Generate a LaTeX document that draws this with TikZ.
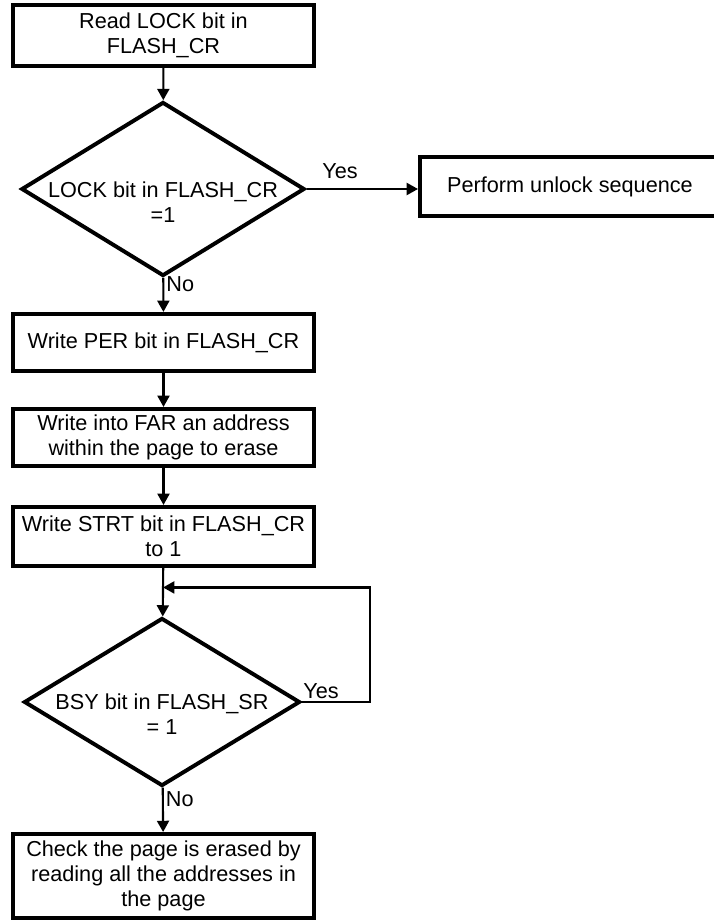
\documentclass[tikz,border=0pt]{standalone}
\usepackage{fontspec}
\setmainfont{Liberation Sans}
\usetikzlibrary{shapes.geometric,arrows.meta}

\begin{document}
\begin{tikzpicture}[x=0.025cm, y=-0.025cm,
    font=\fontsize{15.4}{17.8}\selectfont,
    flowbox/.style={draw, rectangle, line width=2.8pt, align=center,
      minimum width=7.5cm, inner sep=2pt},
    decision/.style={draw, diamond, line width=2.8pt, inner sep=0pt},
    flowline/.style={line width=1.5pt, -{Triangle[length=8pt, width=8.5pt]}},
    answer/.style={inner sep=1.5pt}]
  \useasboundingbox (0,0) rectangle (714,922);
  \node[flowbox, minimum height=1.52cm] (readlock) at (163.5,35.5)
    {Read LOCK bit in\\FLASH\_CR};
  \node[decision, minimum width=7.08cm, minimum height=4.35cm] (lockcheck) at (163,189) {};
  \node[align=center] (locktext) at ([yshift=-0.32cm]lockcheck.center)
    {LOCK bit in FLASH\_CR\\=1};
  \node[flowbox, minimum height=1.48cm] (unlock) at (570,186.5)
    {Perform unlock sequence};
  \node[flowbox, minimum height=1.43cm] (writeper) at (163.5,342.5)
    {Write PER bit in FLASH\_CR};
  \node[flowbox, minimum height=1.43cm] (writefar) at (163.5,437.5)
    {Write into FAR an address\\within the page to erase};
  \node[flowbox, minimum height=1.48cm] (writestrt) at (163.5,536.5)
    {Write STRT bit in FLASH\_CR\\to 1};
  \node[decision, minimum width=6.9cm, minimum height=4.2cm] (bsycheck) at (162,702) {};
  \node[align=center] (bsytext) at ([yshift=-0.3cm]bsycheck.center)
    {BSY bit in FLASH\_SR\\= 1};
  \node[flowbox, minimum height=2.1cm] (checkpage) at (163.5,876)
    {Check the page is erased by\\reading all the addresses in\\the page};

  \draw[flowline] (readlock) -- (lockcheck);
  \draw[flowline] (lockcheck.east) -- node[answer, above=5pt, pos=0.3] {Yes}
    (lockcheck.east -| unlock.west);
  \draw[flowline] (lockcheck) -- node[answer, right, pos=0.2] {No} (writeper);
  \draw[flowline] (writeper) -- (writefar);
  \draw[flowline] (writefar) -- (writestrt);
  \draw[flowline] (writestrt) -- coordinate[pos=0.4] (loopjoin) (bsycheck);
  \draw[flowline] (bsycheck.east) -- node[answer, above, pos=0.28] {Yes}
    ++(1.7cm,0) |- (loopjoin);
  \draw[flowline] (bsycheck) -- node[answer, right, pos=0.25] {No} (checkpage);
\end{tikzpicture}
\end{document}
